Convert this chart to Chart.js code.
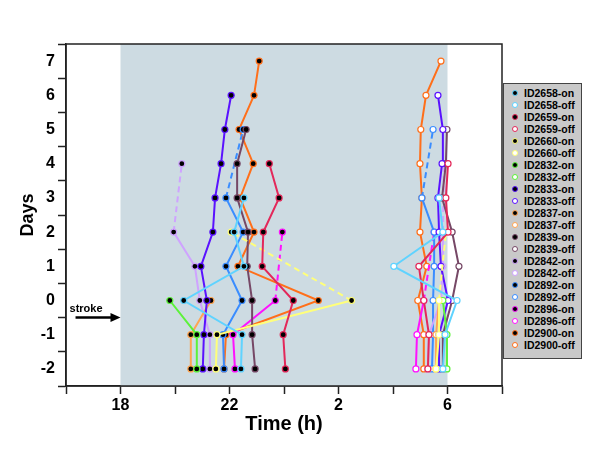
<!DOCTYPE html>
<html>
<head>
<meta charset="utf-8">
<script src="https://cdn.jsdelivr.net/npm/chart.js@4/dist/chart.umd.min.js"></script>
<style>
  html, body { margin: 0; padding: 0; background: #fff; }
  #wrap { position: relative; width: 600px; height: 464px; }
  #legend {
    position: absolute; left: 503px; top: 83px; width: 77px; height: 271px;
    background: #c9c9c9; border: 1.5px solid #444; box-sizing: content-box;
    font: bold 10.5px "Liberation Sans", Arial, sans-serif; color: #000;
    padding-top: 3px;
  }
  .row { height: 12px; line-height: 12px; position: relative; white-space: nowrap; }
  .dot { position: absolute; left: 8px; top: 3px; width: 4px; height: 4px; border-radius: 50%; border: 1px solid; }
  .txt { position: absolute; left: 20px; top: 0; }
</style>
</head>
<body>
<div id="wrap">
  <canvas id="chart" width="600" height="464"></canvas>
  <div id="legend"></div>
</div>
<script>
// days on the y axis (one row per day)
const dayLabels = [-2, -1, 0, 1, 2, 3, 4, 5, 6, 7];

// activity onset times (h, after midnight counted as 24+), null = no data
const on2658 = [22.42, 22.46, 20.32, 22.53, 22.17, 22.53, null, null, null, null];
const on2659 = [24.05, 23.97, 24.34, 23.20, 23.24, 23.82, 23.46, null, null, null];
const on2660 = [21.50, 21.54, 26.48, null, 22.06, null, null, null, null, null];
const on2832 = [20.80, 20.80, 19.81, null, null, null, null, null, null, null];
const on2833 = [21.02, 21.06, 21.17, 20.95, 21.39, 21.47, 21.69, 21.83, 22.06, null];
const on2837 = [20.58, 20.58, 21.32, null, null, null, null, null, null, null];
const on2839 = [22.94, 22.83, 22.83, 22.65, 22.68, 22.28, 22.28, 22.61, null, null];
const on2842 = [21.28, 21.28, 20.91, 20.73, 19.95, null, 20.25, null, null, null];
const on2892 = [21.80, 21.76, 22.46, 21.87, 22.50, 21.87, null, 22.50, null, null];
const on2896 = [22.20, 22.13, 23.68, null, 23.94, null, null, null, null, null];
const on2900 = [21.80, 21.87, 25.26, 22.31, 22.90, 22.39, 22.87, 22.35, 22.90, 23.09];

// activity offset times
const off2658 = [29.83, 29.91, 30.35, 28.03, 29.83, 29.69, null, null, null, null];
const off2659 = [29.28, 29.32, 29.13, 28.95, 30.02, 29.94, 30.02, null, null, null];
const off2660 = [29.58, 29.69, 29.69, null, 29.94, null, null, null, null, null];
const off2832 = [29.98, 29.98, 29.83, null, null, null, null, null, null, null];
const off2833 = [29.69, 29.69, 30.02, 29.76, 29.69, 29.65, 29.80, 29.83, 29.65, null];
const off2837 = [29.58, 29.58, 29.69, null, null, null, null, null, null, null];
const off2839 = [29.83, 29.83, 30.17, 30.42, 30.17, 29.80, 29.94, 29.98, null, null];
const off2842 = [29.28, 29.32, 29.76, 29.83, 29.83, null, 29.87, null, null, null];
const off2892 = [29.43, 29.47, 29.47, 29.51, 29.51, 29.06, null, 29.47, null, null];
const off2896 = [28.84, 28.88, 29.13, null, 29.51, null, null, null, null, null];
const off2900 = [29.13, 29.13, 28.91, 29.24, 28.99, 29.06, 28.99, 29.02, 29.21, 29.76];

const animalIds = ['ID2658', 'ID2659', 'ID2660', 'ID2832', 'ID2833', 'ID2837',
                   'ID2839', 'ID2842', 'ID2892', 'ID2896', 'ID2900'];
const animalColors = ['#5fd3ff', '#e3285a', '#ffff7a', '#5cf23a', '#5a12ff', '#ffa552',
                      '#764866', '#cfa3ff', '#3a8dff', '#ff12ff', '#ff6f1a'];
const onsets = [on2658, on2659, on2660, on2832, on2833, on2837, on2839, on2842, on2892, on2896, on2900];
const offsets = [off2658, off2659, off2660, off2832, off2833, off2837, off2839, off2842, off2892, off2896, off2900];

// x axis: hours 16..32 (2 = 26, 6 = 30)
const xTickValues = [18, 22, 26, 30];
const xTickText = ['18', '22', '2', '6'];
const darkStart = 18;
const darkEnd = 30;

function toPoints(times) {
    return dayLabels.map((d, i) => ({ x: times[i], y: d })).filter(p => p.x !== null);
}

const datasets = [];
animalIds.forEach((id, i) => {
    const col = animalColors[i];
    const common = {
        showLine: true,
        borderColor: col,
        backgroundColor: col,
        borderWidth: 2,
        pointRadius: 3,
        pointBorderWidth: 1.2,
        pointBorderColor: col,
        // gap of a missing day -> dashed line
        segment: {
            borderDash: ctx => (ctx.p1.parsed.y - ctx.p0.parsed.y > 1 ? [6, 4] : undefined)
        }
    };
    datasets.push(Object.assign({ label: id + '-on', data: toPoints(onsets[i]), pointBackgroundColor: '#000' }, common));
    datasets.push(Object.assign({ label: id + '-off', data: toPoints(offsets[i]), pointBackgroundColor: '#fff' }, common));
});

const FONT = '"Liberation Sans", Arial, sans-serif';

const decorations = {
    id: 'decorations',
    beforeDatasetsDraw(chart) {
        const { ctx, chartArea: a, scales: { x } } = chart;
        const x0 = x.getPixelForValue(darkStart);
        const x1 = x.getPixelForValue(darkEnd);
        ctx.save();
        ctx.fillStyle = '#cddbe2';
        ctx.fillRect(x0, a.top, x1 - x0, a.bottom - a.top);
        ctx.restore();
    },
    afterDraw(chart) {
        const { ctx, chartArea: a, scales: { x, y } } = chart;
        ctx.save();
        // frame
        ctx.strokeStyle = '#222';
        ctx.lineWidth = 1.5;
        ctx.strokeRect(a.left, a.top, a.right - a.left, a.bottom - a.top);
        // stroke arrow
        const ay = y.getPixelForValue(-0.5);
        const ax0 = x.getPixelForValue(16.35);
        const ax1 = x.getPixelForValue(18);
        ctx.strokeStyle = '#000';
        ctx.fillStyle = '#000';
        ctx.lineWidth = 2.5;
        ctx.beginPath();
        ctx.moveTo(ax0, ay);
        ctx.lineTo(ax1 - 8, ay);
        ctx.stroke();
        ctx.beginPath();
        ctx.moveTo(ax1, ay);
        ctx.lineTo(ax1 - 10, ay - 4.5);
        ctx.lineTo(ax1 - 10, ay + 4.5);
        ctx.closePath();
        ctx.fill();
        ctx.font = 'bold 11px ' + FONT;
        ctx.textBaseline = 'alphabetic';
        ctx.fillText('stroke', ax0 - 6, ay - 6);
        ctx.restore();
    }
};

new Chart(document.getElementById('chart'), {
    type: 'scatter',
    data: { datasets: datasets },
    options: {
        responsive: false,
        animation: false,
        devicePixelRatio: 1,
        layout: { padding: { top: 44, right: 98, left: 0, bottom: 0 } },
        plugins: { legend: { display: false }, tooltip: { enabled: false } },
        scales: {
            x: {
                type: 'linear',
                min: 16,
                max: 32,
                afterBuildTicks: s => { s.ticks = [16, 18, 20, 22, 24, 26, 28, 30, 32].map(v => ({ value: v })); },
                afterFit: s => { s.height = 78; },
                border: { display: true, color: '#222', width: 1.5 },
                grid: { drawOnChartArea: false, tickLength: 8, tickColor: '#222', tickWidth: 1.5 },
                ticks: {
                    autoSkip: false,
                    maxRotation: 0,
                    padding: 2,
                    color: '#000',
                    font: { family: FONT, size: 16, weight: 'bold' },
                    callback: v => { const k = xTickValues.indexOf(v); return k >= 0 ? xTickText[k] : ''; }
                },
                title: {
                    display: true,
                    text: 'Time (h)',
                    color: '#000',
                    font: { family: FONT, size: 20, weight: 'bold' },
                    padding: { top: 0, bottom: 28 }
                }
            },
            y: {
                type: 'linear',
                min: -2.5,
                max: 7.5,
                afterBuildTicks: s => {
                    const t = [];
                    for (let v = -2.5; v <= 7.5; v += 0.5) t.push({ value: v });
                    s.ticks = t;
                },
                afterFit: s => { s.width = 66; },
                border: { display: true, color: '#222', width: 1.5 },
                grid: {
                    drawOnChartArea: false,
                    tickLength: 8,
                    tickWidth: 1.5,
                    tickColor: c => (Number.isInteger(c.tick.value) ? 'rgba(0,0,0,0)' : '#222')
                },
                ticks: {
                    autoSkip: false,
                    padding: 3,
                    color: '#000',
                    font: { family: FONT, size: 16, weight: 'bold' },
                    callback: v => (Number.isInteger(v) ? String(v) : '')
                },
                title: {
                    display: true,
                    text: 'Days',
                    color: '#000',
                    font: { family: FONT, size: 18, weight: 'bold' },
                    padding: { top: 17, bottom: 0 }
                }
            }
        }
    },
    plugins: [decorations]
});

// legend
const legend = document.getElementById('legend');
datasets.forEach(ds => {
    const row = document.createElement('div');
    row.className = 'row';
    const dot = document.createElement('span');
    dot.className = 'dot';
    dot.style.borderColor = ds.borderColor;
    dot.style.background = ds.pointBackgroundColor;
    const txt = document.createElement('span');
    txt.className = 'txt';
    txt.textContent = ds.label;
    row.appendChild(dot);
    row.appendChild(txt);
    legend.appendChild(row);
});
</script>
</body>
</html>
